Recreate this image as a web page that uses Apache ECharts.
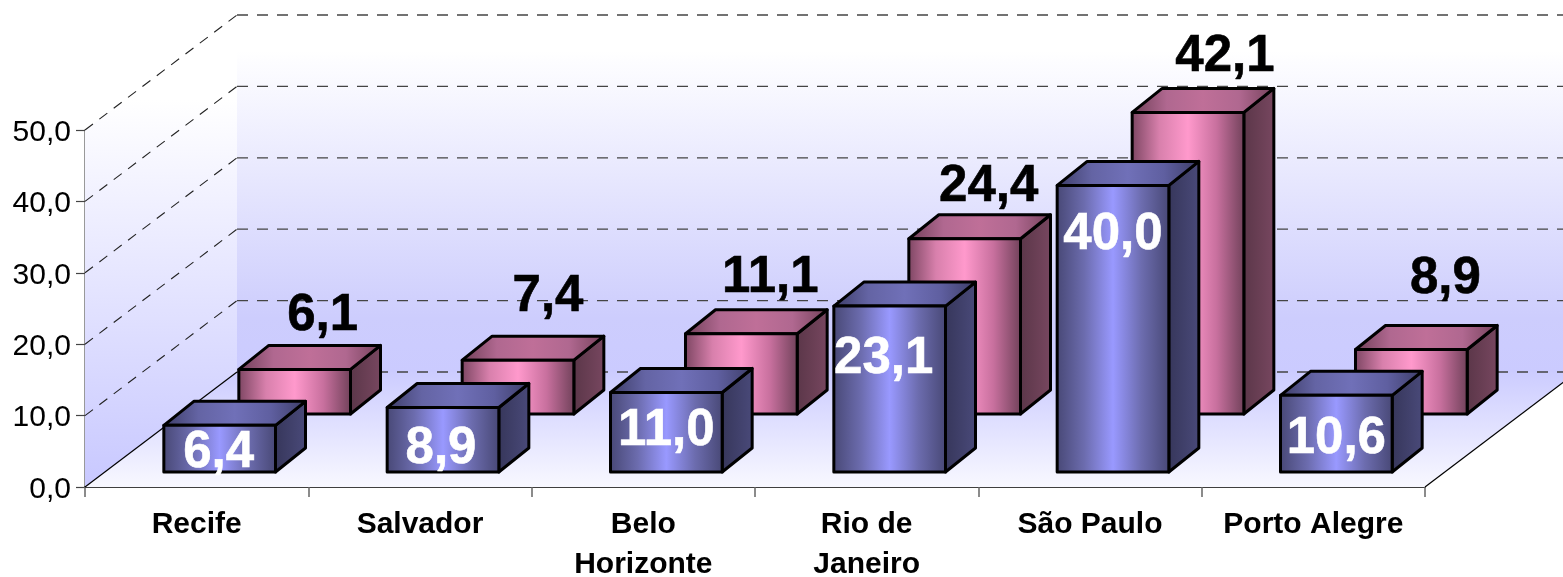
<!DOCTYPE html>
<html><head><meta charset="utf-8">
<style>html,body{margin:0;padding:0;background:#fff}#c{width:1563px;height:577px}</style>
<script src="https://cdn.jsdelivr.net/npm/echarts@6/dist/echarts.min.js"></script>
</head><body><div id="c"></div>
<script>
const categories = ['Recife','Salvador','Belo\nHorizonte','Rio de\nJaneiro','São Paulo','Porto Alegre'];
const frontValues = [6.4, 8.9, 11.0, 23.1, 40.0, 10.6];
const backValues = [6.1, 7.4, 11.1, 24.4, 42.1, 8.9];
const yTicks = [0, 10, 20, 30, 40, 50];

// label nudges relative to the bar's front-top-centre (hand-placed in the original)
const frontLabelNudgeX = [-1, -2, 0, -6, 0, 0];
const frontLabelNudgeY = [42, 56, 53, 67, 64, 58];
const backLabelNudgeX = [28, 30, 29, 24, 37, 34];
const backLabelNudgeY = [-39, -49, -41, -37, -41, -56];

const FONT = '"Liberation Sans", Arial, sans-serif';
const WALL_DX = 152, WALL_DY = -115;
const BOX_DX = 30, BOX_DY = -24;
const TEXT_TOP_TO_BASELINE = 41;
const fmt = v => v.toFixed(1).replace('.', ',');
const hGrad = stops => ({type:'linear',x:0,y:0,x2:1,y2:0,colorStops:stops.map((c,i)=>({offset:i/(stops.length-1),color:c}))});
const vGrad = (...stops) => ({type:'linear',x:0,y:0,x2:0,y2:1,colorStops:stops.map(s=>({offset:s[0],color:s[1]}))});

const palettes = {
  front:{face:['#474774','#6c6cae','#9999ff','#6c6cae','#474774'],top:['#3c3c66','#6464a4','#7070b8','#5f5fa0','#3c3c66'],side:['#36365a','#4a4a7a']},
  back:{face:['#7a4460','#d880ac','#ff99cc','#c8709e','#6e4058'],top:['#6e3e56','#b06890','#bf6f98','#b06890','#74415a'],side:['#5a3648','#784760']}
};

function boxSeries(name, values, pal, shiftX, shiftY, nudgeX, nudgeY, labelColor, isFront) {
  return {
    type:'custom', name, z:isFront?4:3, animation:false,
    encode:{x:0,y:1},
    data: values.map((v,i)=>[i,v]),
    renderItem(params, api){
      const i = api.value(0), v = api.value(1);
      const base = api.coord([i,0]), top = api.coord([i,v]);
      const w = api.size([1,0])[0] * 0.5;
      const l = base[0] + shiftX - w/2, r = l + w;
      const b = base[1] + shiftY, t = top[1] + shiftY - 1;
      const stroke = {stroke:'#000',lineWidth:3,lineJoin:'round'};
      return {type:'group',children:[
        {type:'polygon',shape:{points:[[r,t],[r+BOX_DX,t+BOX_DY],[r+BOX_DX,b+BOX_DY],[r,b]]},style:{fill:hGrad(pal.side),...stroke}},
        {type:'polygon',shape:{points:[[l,t],[l+BOX_DX,t+BOX_DY],[r+BOX_DX,t+BOX_DY],[r,t]]},style:{fill:hGrad(pal.top),...stroke}},
        {type:'polygon',shape:{points:[[l,t],[r,t],[r,b],[l,b]]},style:{fill:hGrad(pal.face),...stroke}},
        {type:'text',z2:20,style:{text:fmt(v),x:(l+r)/2+nudgeX[i],y:t+1+nudgeY[i]-TEXT_TOP_TO_BASELINE,fill:labelColor,
          stroke:labelColor,lineWidth:0.6,font:'bold 51px '+FONT,align:'center',verticalAlign:'top'}}
      ]};
    }
  };
}

const wallSeries = {
  type:'custom', name:'walls', z:1, silent:true, animation:false,
  encode:{x:0,y:1}, data:[[0,0]],
  renderItem(params, api){
    const cs = params.coordSys;
    const y0 = api.coord([0,0])[1], yMax = api.coord([0,yTicks[yTicks.length-1]])[1];
    const xL = cs.x, xR = cs.x + cs.width;
    const bx = xL + WALL_DX, by0 = y0 + WALL_DY, byM = yMax + WALL_DY;
    return {type:'group',children:[
      {type:'polygon',shape:{points:[[xL,y0],[bx,by0],[xR+WALL_DX,by0],[xR,y0]]},style:{fill:vGrad([0,'#ccccff'],[1,'#f8f8ff'])}},
      {type:'polygon',shape:{points:[[bx,byM],[xR+WALL_DX,byM],[xR+WALL_DX,by0],[bx,by0]]},style:{fill:vGrad([0,'#ffffff'],[0.1,'#ffffff'],[0.85,'#cdcdfd'],[1,'#cbcbff'])}},
      {type:'polygon',shape:{points:[[xL,yMax],[bx,byM],[bx,by0],[xL,y0]]},style:{fill:vGrad([0,'#ffffff'],[0.18,'#ffffff'],[1,'#c8c8ff'])}},
      {type:'line',shape:{x1:xL,y1:y0,x2:bx,y2:by0},style:{stroke:'#000',lineWidth:1.2}},
      {type:'line',shape:{x1:xR,y1:y0,x2:xR+WALL_DX,y2:by0},style:{stroke:'#000',lineWidth:1.2}}
    ]};
  }
};

const gridSeries = {
  type:'custom', name:'grid', z:2, silent:true, animation:false,
  encode:{x:0,y:1}, data:yTicks.map(t=>[0,t]),
  renderItem(params, api){
    const cs = params.coordSys;
    const t = api.value(1), y = api.coord([0,t])[1];
    const xL = cs.x, xR = cs.x + cs.width;
    const bx = xL + WALL_DX, by = y + WALL_DY;
    const kids = [{type:'line',shape:{x1:bx,y1:by,x2:xR+WALL_DX,y2:by},style:{stroke:'#444',lineWidth:1.3,lineDash:[11,9]}}];
    if (t > 0) kids.push({type:'line',shape:{x1:xL,y1:y,x2:bx,y2:by},style:{stroke:'#222',lineWidth:1.1,lineDash:[10,8]}});
    return {type:'group',children:kids};
  }
};

const chart = echarts.init(document.getElementById('c'), null, {renderer:'canvas'});
chart.setOption({
  animation:false,
  backgroundColor:'#fff',
  grid:{left:85,right:138,top:130,bottom:90,containLabel:false,outerBoundsMode:'none'},
  xAxis:{type:'category',data:categories,boundaryGap:true,
    axisLine:{show:true,lineStyle:{color:'#000',width:1.5}},
    axisTick:{show:true,alignWithLabel:false,length:10,lineStyle:{color:'#666',width:1.5}},
    axisLabel:{interval:0,margin:18,color:'#000',fontFamily:FONT,fontWeight:'bold',fontSize:30,lineHeight:40}},
  yAxis:{type:'value',min:0,max:50,interval:10,splitLine:{show:false},
    axisLine:{show:true,lineStyle:{color:'#777',width:1.5}},
    axisTick:{show:true,length:9,lineStyle:{color:'#444',width:1.2}},
    axisLabel:{margin:14,color:'#000',fontFamily:FONT,fontSize:30,
      formatter:v=>'{a|'+fmt(v)+'}',
      rich:{a:{color:'#000',fontFamily:FONT,fontSize:30,lineHeight:30,padding:[5,0,0,0]}}}},
  series:[
    wallSeries, gridSeries,
    boxSeries('Back', backValues, palettes.back, 98, -73, backLabelNudgeX, backLabelNudgeY, '#000', false),
    boxSeries('Front', frontValues, palettes.front, 23, -15, frontLabelNudgeX, frontLabelNudgeY, '#fff', true)
  ]
});
</script></body></html>
